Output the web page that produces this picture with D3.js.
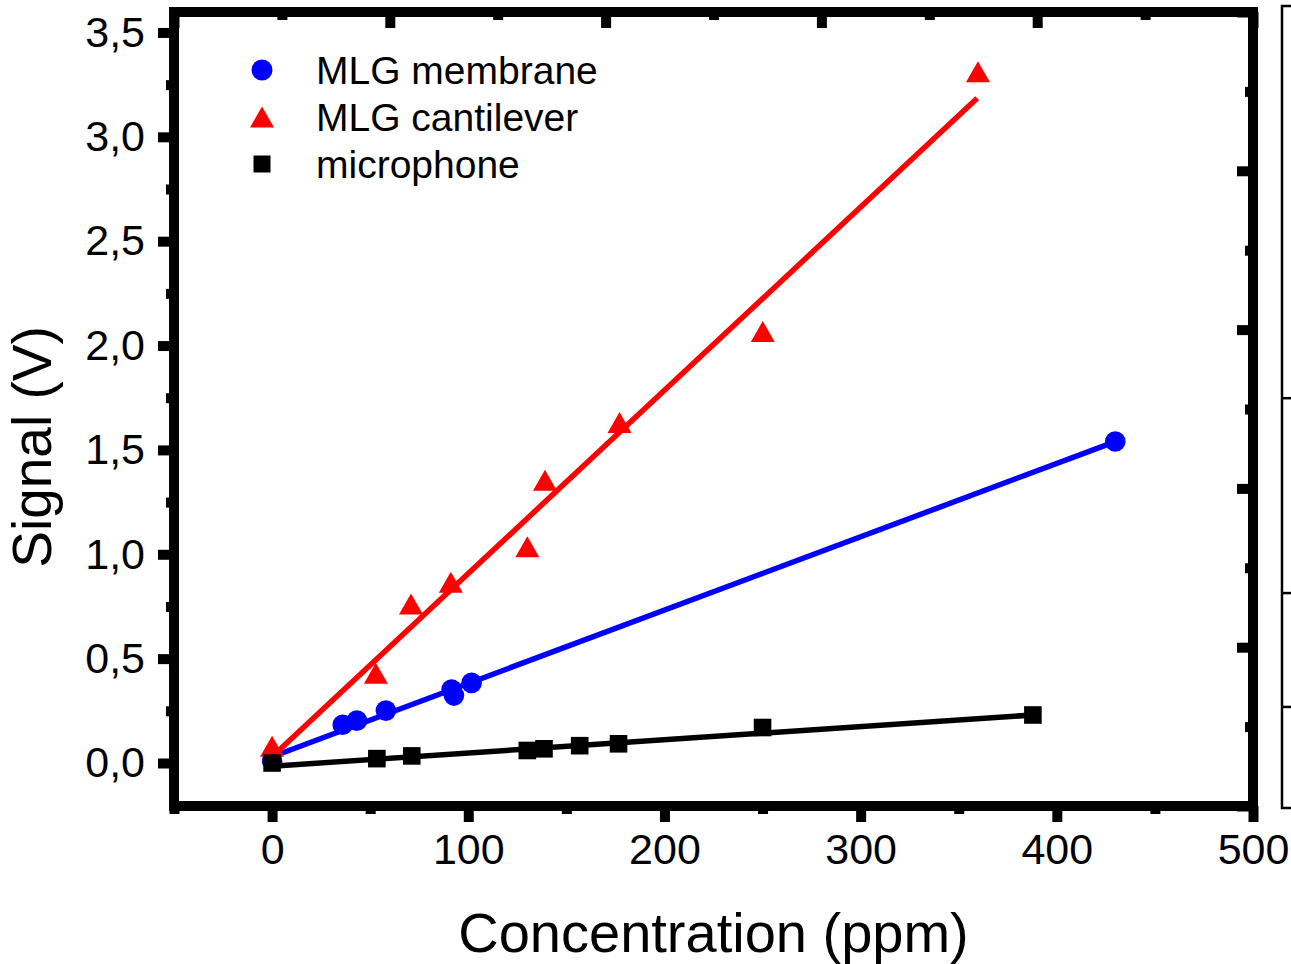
<!DOCTYPE html>
<html>
<head>
<meta charset="utf-8">
<script src="https://cdn.jsdelivr.net/npm/d3@7"></script>
<style>
  body { margin: 0; background: #fff; }
  text { font-family: "Liberation Sans", Arial, sans-serif; fill: #000; }
</style>
</head>
<body>
<svg id="chart" width="1291" height="964"></svg>
<script>
// data
const membraneX = [0, 36.0, 43.2, 58.0, 91.5, 92.7, 101.7, 429.8];
const membraneY = [0.01, 0.183, 0.203, 0.251, 0.352, 0.323, 0.384, 1.540];
const cantileverX = [0, 52.9, 70.8, 91.1, 130.1, 139.1, 177.1, 250.1, 359.8];
const cantileverY = [0.08, 0.430, 0.762, 0.866, 1.036, 1.355, 1.631, 2.067, 3.312];
const micX = [0, 53.4, 71.2, 130.1, 138.6, 156.8, 176.6, 250.0, 387.8];
const micY = [0.0, 0.021, 0.034, 0.060, 0.068, 0.083, 0.092, 0.170, 0.230];

// linear fit lines (end points)
const membraneFitX = [0, 429.8], membraneFitY = [0.03, 1.540];
const cantileverFitX = [0, 359.4], cantileverFitY = [0.03, 3.185];
const micFitX = [0, 387.8], micFitY = [-0.015, 0.230];

const xTicks = [0, 100, 200, 300, 400, 500];
const xMinor = [-50, 50, 150, 250, 350, 450];
const yTicks = [0, 0.5, 1.0, 1.5, 2.0, 2.5, 3.0, 3.5];
const yMinor = [0.25, 0.75, 1.25, 1.75, 2.25, 2.75, 3.25];
const twinTicks = [0, 1, 2, 3, 4, 5];
const twinMinor = [0.5, 1.5, 2.5, 3.5, 4.5];
const sideTicks = [0.511, 0.268, 0.126]; // cut-off neighbour panel

const seriesNames = ["MLG membrane", "MLG cantilever", "microphone"];
const colors = ["#0000ff", "#ff0000", "#000000"];

const svg = d3.select("#chart");
const pL = 174, pR = 1253, pT = 12, pB = 806;

const x = d3.scaleLinear().domain([-50, 500]).range([pL, pR]);
const y = d3.scaleLinear().domain([-0.206, 3.598]).range([pB, pT]);
const xTop = d3.scaleLinear().domain([0, 5]).range([pL, pR]);
const yRight = d3.scaleLinear().domain([0, 5]).range([pB, pT]);

const fmt = d => d3.format(".1f")(d).replace(".", ",");

// axes: ticks only, frame drawn separately
function ticks(axis, tx, ty) {
  const g = svg.append("g").attr("transform", `translate(${tx},${ty})`).call(axis);
  g.select(".domain").remove();
  g.selectAll(".tick line").attr("stroke", "#000").attr("stroke-width", 10);
  g.selectAll("text").attr("font-size", 43).attr("fill", "#000");
  return g;
}

ticks(d3.axisBottom(x).tickValues(xTicks).tickSize(16).tickPadding(11), 0, pB)
  .selectAll("text").attr("dy", "0.72em");
ticks(d3.axisBottom(x).tickValues(xMinor).tickSize(8).tickFormat(""), 0, pB);
ticks(d3.axisLeft(y).tickValues(yTicks).tickSize(16).tickPadding(13).tickFormat(fmt), pL, 0);
ticks(d3.axisLeft(y).tickValues(yMinor).tickSize(8).tickFormat(""), pL, 0);
ticks(d3.axisBottom(xTop).tickValues(twinTicks).tickSize(16).tickFormat(""), 0, pT);
ticks(d3.axisBottom(xTop).tickValues(twinMinor).tickSize(8).tickFormat(""), 0, pT);
ticks(d3.axisLeft(yRight).tickValues(twinTicks).tickSize(16).tickFormat(""), pR, 0);
ticks(d3.axisLeft(yRight).tickValues(twinMinor).tickSize(8).tickFormat(""), pR, 0);

svg.append("rect")
  .attr("x", pL).attr("y", pT)
  .attr("width", pR - pL).attr("height", pB - pT)
  .attr("fill", "none").attr("stroke", "#000").attr("stroke-width", 10);

// neighbour panel edge at the far right
const side = d3.scaleLinear().domain([0, 1]).range([808, 6]);
svg.append("path")
  .attr("d", `M1295,${side(1)}H1282V${side(0)}H1295`)
  .attr("fill", "none").attr("stroke", "#000").attr("stroke-width", 2.5);
svg.selectAll(".sidetick").data(sideTicks).join("line")
  .attr("class", "sidetick")
  .attr("x1", 1282).attr("x2", 1295)
  .attr("y1", d => side(d)).attr("y2", d => side(d))
  .attr("stroke", "#000").attr("stroke-width", 2.5);

// axis titles
svg.append("text").attr("x", (pL + pR) / 2).attr("y", 952)
  .attr("text-anchor", "middle").attr("font-size", 56).text("Concentration (ppm)");
svg.append("text").attr("transform", "translate(51,447) rotate(-90)")
  .attr("text-anchor", "middle").attr("font-size", 55).text("Signal (V)");

// fit lines
const line = d3.line().x(d => x(d[0])).y(d => y(d[1]));
const fits = [
  [membraneFitX, membraneFitY],
  [cantileverFitX, cantileverFitY],
  [micFitX, micFitY]
];
fits.forEach((f, i) => {
  svg.append("path")
    .datum(d3.zip(f[0], f[1]))
    .attr("d", line)
    .attr("fill", "none")
    .attr("stroke", colors[i])
    .attr("stroke-width", 5.5);
});

// symbols
function tri(cx, cy, w, h) {
  return `M${cx},${cy - h / 2}L${cx + w / 2},${cy + h / 2}L${cx - w / 2},${cy + h / 2}Z`;
}

svg.append("g").selectAll("circle")
  .data(d3.zip(membraneX, membraneY)).join("circle")
  .attr("cx", d => x(d[0])).attr("cy", d => y(d[1])).attr("r", 10.3)
  .attr("fill", colors[0]);

svg.append("g").selectAll("path")
  .data(d3.zip(cantileverX, cantileverY)).join("path")
  .attr("d", d => tri(x(d[0]), y(d[1]), 24, 21))
  .attr("fill", colors[1]);

svg.append("g").selectAll("rect")
  .data(d3.zip(micX, micY)).join("rect")
  .attr("x", d => x(d[0]) - 8.8).attr("y", d => y(d[1]) - 8.8)
  .attr("width", 17.6).attr("height", 17.6)
  .attr("fill", colors[2]);

// legend
const lg = svg.append("g");
const rows = [70, 117, 164];
lg.append("circle").attr("cx", 262).attr("cy", rows[0]).attr("r", 10.5).attr("fill", colors[0]);
lg.append("path").attr("d", tri(262, rows[1], 24, 21)).attr("fill", colors[1]);
lg.append("rect").attr("x", 253.5).attr("y", rows[2] - 8.5).attr("width", 17).attr("height", 17).attr("fill", colors[2]);
lg.selectAll("text").data(seriesNames).join("text")
  .attr("x", 316).attr("y", (d, i) => rows[i] + 13.5)
  .attr("font-size", 39)
  .text(d => d);
</script>
</body>
</html>
